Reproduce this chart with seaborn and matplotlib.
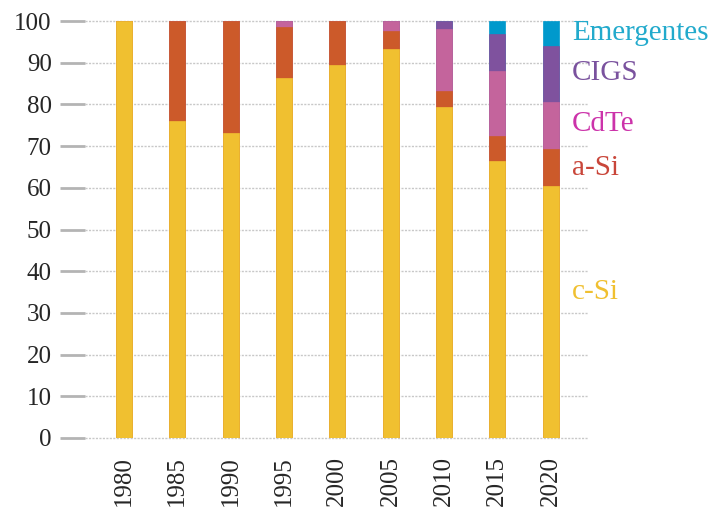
import matplotlib
matplotlib.use("Agg")
import matplotlib.pyplot as plt
import seaborn as sns
import numpy as np
import pandas as pd

years = ["1980", "1985", "1990", "1995", "2000", "2005", "2010", "2015", "2020"]
c_si = [100, 76.0, 73.1, 86.4, 89.4, 93.4, 79.3, 66.4, 60.5]
a_si = [0, 24.0, 26.9, 12.2, 10.6, 4.2, 3.8, 6.0, 8.8]
cdte = [0, 0, 0, 1.4, 0, 2.4, 15.1, 15.7, 11.3]
cigs = [0, 0, 0, 0, 0, 0, 1.8, 8.9, 13.5]
emergentes = [0, 0, 0, 0, 0, 0, 0, 3.0, 5.9]

series = ["c-Si", "a-Si", "CdTe", "CIGS", "Emergentes"]
bar_colors = ["#F0C030", "#CC5A2A", "#C4649C", "#7F529E", "#0099CC"]
label_colors = ["#F0C030", "#C9463A", "#CC33AA", "#7A529E", "#22AACC"]
label_y = [35, 64.7, 75.3, 87.5, 97.1]

df = pd.DataFrame({"year": years, "c-Si": c_si, "a-Si": a_si, "CdTe": cdte,
                   "CIGS": cigs, "Emergentes": emergentes})
cum = df[series].cumsum(axis=1)

sns.set_style("white")
plt.rcParams["font.family"] = ["Liberation Serif", "DejaVu Serif"]

fig = plt.figure(figsize=(7.09, 5.07), dpi=100)
ax = fig.add_axes([85 / 709, 1 - 438 / 507, (588 - 85) / 709, (438 - 21) / 507])

# stacked bars: draw cumulative totals from the top layer down
for name, col in reversed(list(zip(series, bar_colors))):
    sns.barplot(x=df["year"], y=cum[name], color=col, width=0.3,
                saturation=1, ax=ax, edgecolor=col, linewidth=0.5)

ax.set_ylim(0, 100)
ax.set_xlim(-0.73, 8.7)
ax.set_yticks(range(0, 101, 10))
for v in range(0, 101, 10):
    ax.axhline(v, color="#c8c8c8", linestyle=(0, (1.5, 1)), linewidth=1,
               zorder=0, clip_on=False)
sns.despine(ax=ax, left=True, bottom=True, top=True, right=True)

ax.tick_params(axis="y", left=True, length=18, width=2, color="#b4b4b4", pad=6,
               labelsize=18, direction="out")
ax.tick_params(axis="x", bottom=False, length=0, labelsize=18, pad=13, rotation=90)
for lbl in ax.get_yticklabels():
    lbl.set_clip_on(False)
ax.set_xlabel("")
ax.set_ylabel("")

for name, col, y in zip(series, label_colors, label_y):
    ax.text(8.40, y, name, color=col, fontsize=21, va="center", ha="left",
            clip_on=False)

fig.savefig("out.png", dpi=100)
